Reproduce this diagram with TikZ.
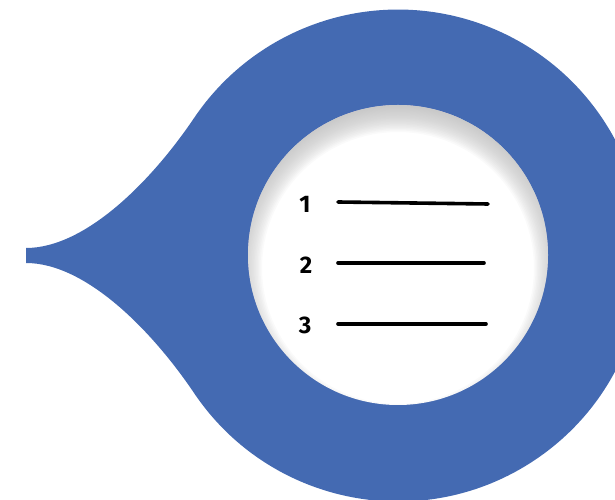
\documentclass[tikz,border=0pt]{standalone}
\usepackage{fontspec}
\setmainfont{Fira Sans}
\definecolor{dropblue}{RGB}{68,106,178}
\definecolor{shadegray}{RGB}{190,190,190}
\begin{document}
\begin{tikzpicture}[x=1pt,y=1pt,
  numlabel/.style={font=\fontsize{24}{24}\selectfont\bfseries, inner sep=0pt},
  listline/.style={line width=3.6pt, line cap=round, black}]
\useasboundingbox (0,0) rectangle (615,500);
\clip (0,0) rectangle (615,500);
% outer teardrop
\coordinate (c) at (398,244.5);
\fill[dropblue] (26,237) .. controls (86,237) and (152.2,169.1) .. (194.1,106.9)
  arc[start angle=214, end angle=506, radius=246pt]
  .. controls (152.2,319.9) and (86,252) .. (26,252) -- cycle;
% inner white circle with inner shadow
\fill[white] (398,245) circle (150pt);
\begin{scope}
  \clip (398,245) circle (150pt);
  \foreach \k in {0,...,19}{
    \fill[shadegray, opacity=0.075, even odd rule]
      (200,50) rectangle (600,440) (398,232) circle ({136+1.5*\k pt});
  }
\end{scope}
% numbers and lines
\node[numlabel] (n1) at (305,296) {1};
\node[numlabel] (n2) at (306,235) {2};
\node[numlabel] (n3) at (305,175) {3};
\coordinate (l1a) at (338,298); \coordinate (l1b) at (488,296);
\coordinate (l2a) at (338,237); \coordinate (l2b) at (484,237);
\coordinate (l3a) at (338,176); \coordinate (l3b) at (486,176);
\draw[listline] (l1a) -- (l1b);
\draw[listline] (l2a) -- (l2b);
\draw[listline] (l3a) -- (l3b);
\end{tikzpicture}
\end{document}
